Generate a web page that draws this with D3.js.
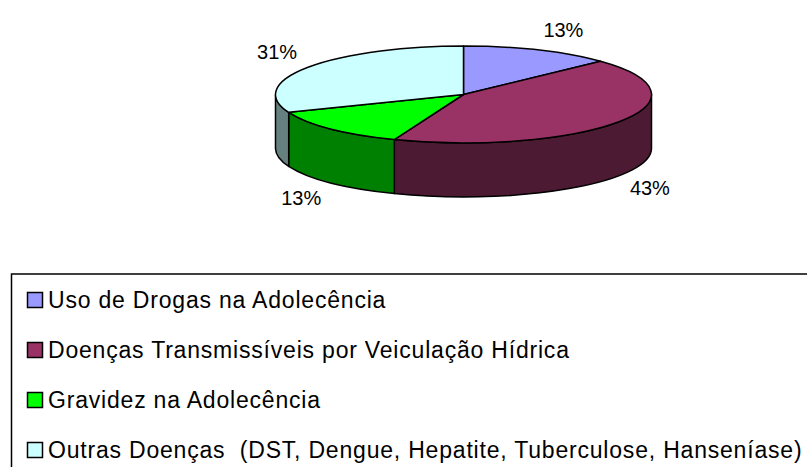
<!DOCTYPE html>
<html>
<head>
<meta charset="utf-8">
<script src="https://cdn.jsdelivr.net/npm/d3@7"></script>
<style>
  body { margin: 0; background: #fff; }
  text { font-family: "Liberation Sans", Arial, sans-serif; fill: #000; white-space: pre; }
</style>
</head>
<body>
<div id="vis"></div>
<script>
// data
const categories = [
  "Uso de Drogas na Adolecência",
  "Doenças Transmissíveis por Veiculação Hídrica",
  "Gravidez na Adolecência",
  "Outras Doenças  (DST, Dengue, Hepatite, Tuberculose, Hanseníase)"
];
const values = [13, 43, 13, 31];
const topColors = ["#9999FF", "#993366", "#00FF00", "#CCFFFF"];
const sideColors = ["#4D4D80", "#4C1A33", "#008000", "#668080"];

const W = 807, H = 467;
const cx = 463.5, cy = 94.5, rx = 188, ry = 48.5, depth = 54;

const svg = d3.select("#vis")
  .append("svg")
    .attr("width", W)
    .attr("height", H);

const topColor = d3.scaleOrdinal().domain(categories).range(topColors);
const sideColor = d3.scaleOrdinal().domain(categories).range(sideColors);

const pie = d3.pie().sort(null).value(d => d.v);
const arcs = pie(categories.map((c, i) => ({ c: c, v: values[i] })));
const total = d3.sum(values);
const pct = d3.format(".0%");

// point on the ellipse, angle 0 at top, clockwise
function pt(a, dy) {
  return [cx + rx * Math.sin(a), cy - ry * Math.cos(a) + (dy || 0)];
}

function topPath(d) {
  const p0 = pt(d.startAngle), p1 = pt(d.endAngle);
  const large = d.endAngle - d.startAngle > Math.PI ? 1 : 0;
  return "M" + cx + "," + cy + "L" + p0 + "A" + rx + "," + ry + " 0 " + large + " 1 " + p1 + "Z";
}

// front side of a slice (only the part between 3 and 9 o'clock shows)
function sidePath(d) {
  const a0 = Math.max(d.startAngle, Math.PI / 2);
  const a1 = Math.min(d.endAngle, 3 * Math.PI / 2);
  if (a1 <= a0) return null;
  const t0 = pt(a0), t1 = pt(a1), b0 = pt(a0, depth), b1 = pt(a1, depth);
  return "M" + t0 + "A" + rx + "," + ry + " 0 0 1 " + t1 +
    "L" + b1 + "A" + rx + "," + ry + " 0 0 0 " + b0 + "Z";
}

const g = svg.append("g");

// sides
g.selectAll("path.side")
  .data(arcs.filter(d => sidePath(d)))
  .enter()
  .append("path")
    .attr("class", "side")
    .attr("d", sidePath)
    .attr("fill", d => sideColor(d.data.c))
    .attr("stroke", "#000")
    .attr("stroke-width", 1.5)
    .attr("stroke-linejoin", "round");

// tops
g.selectAll("path.top")
  .data(arcs)
  .enter()
  .append("path")
    .attr("class", "top")
    .attr("d", topPath)
    .attr("fill", d => topColor(d.data.c))
    .attr("stroke", "#000")
    .attr("stroke-width", 1.5)
    .attr("stroke-linejoin", "round");

// percent labels
g.selectAll("text.lbl")
  .data(arcs)
  .enter()
  .append("text")
    .attr("class", "lbl")
    .style("font-size", "20px")
    .each(function(d) {
      const m = (d.startAngle + d.endAngle) / 2;
      const s = Math.sin(m), c = Math.cos(m);
      const x = cx + 1.07 * rx * s;
      let y;
      if (c >= 0) y = cy - 1.3 * ry * c;                 // baseline above rim
      else y = cy + depth - 1.4 * ry * c + 8;            // below the side
      d3.select(this)
        .attr("x", x)
        .attr("y", y)
        .attr("text-anchor", s >= 0 ? "start" : "end")
        .text(pct(d.data.v / total));
    });

// legend
const legend = svg.append("g");
legend.append("rect")
  .attr("x", 11.5)
  .attr("y", 274)
  .attr("width", 820)
  .attr("height", 220)
  .attr("fill", "none")
  .attr("stroke", "#000")
  .attr("stroke-width", 1.5);

const ly = d3.scalePoint().domain(categories).range([300, 450]);

const item = legend.selectAll("g.item")
  .data(categories)
  .enter()
  .append("g")
    .attr("class", "item")
    .attr("transform", d => "translate(0," + ly(d) + ")");

item.append("rect")
  .attr("x", 27.5)
  .attr("y", -7.5)
  .attr("width", 15)
  .attr("height", 15)
  .attr("fill", d => topColor(d))
  .attr("stroke", "#000")
  .attr("stroke-width", 1.5);

item.append("text")
  .attr("x", 48)
  .attr("y", 8)
  .style("font-size", "23px")
  .style("letter-spacing", "0.8px")
  .text(d => d);
</script>
</body>
</html>
